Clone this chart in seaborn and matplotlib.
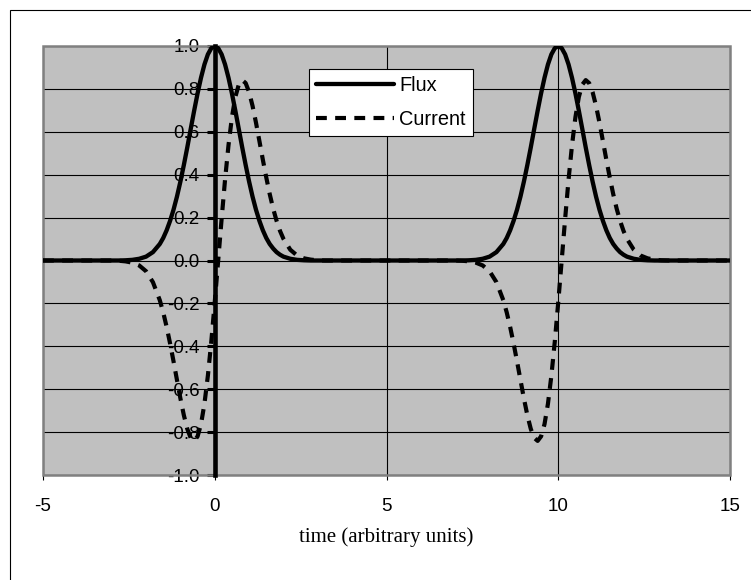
import matplotlib
matplotlib.use("Agg")
import matplotlib.pyplot as plt
from matplotlib.patches import Rectangle
from matplotlib.lines import Line2D
import pandas as pd
import seaborn as sns

# Sample times; the two pulses are centred on t = 0 and t = 10
time = [
    -5.0,
    -3.0, -2.8, -2.6, -2.4, -2.2, -2.0, -1.8, -1.6,
    -1.5, -1.4, -1.3, -1.2, -1.1, -1.0, -0.9, -0.8, -0.7, -0.6, -0.5, -0.4,
    -0.3, -0.2, -0.1, 0.0, 0.1, 0.2, 0.3, 0.4, 0.5, 0.6, 0.7, 0.8,
    0.9, 1.0, 1.1, 1.2, 1.3, 1.4, 1.5, 1.6, 1.7, 1.8, 1.9, 2.0,
    2.2, 2.4, 2.6, 2.8, 3.0, 3.2, 3.4,
    7.0, 7.2, 7.4, 7.6, 7.8, 8.0, 8.2, 8.4,
    8.5, 8.6, 8.7, 8.8, 8.9, 9.0, 9.1, 9.2, 9.3, 9.4, 9.5, 9.6,
    9.7, 9.8, 9.9, 10.0, 10.1, 10.2, 10.3, 10.4, 10.5, 10.6, 10.7, 10.8,
    10.9, 11.0, 11.1, 11.2, 11.3, 11.4, 11.5, 11.6, 11.7, 11.8, 11.9, 12.0,
    12.2, 12.4, 12.6, 12.8, 13.0, 13.2, 13.4,
    15.0,
]

flux = [
    0.000,
    0.000, 0.000, 0.001, 0.003, 0.008, 0.018, 0.039, 0.077,
    0.105, 0.141, 0.185, 0.237, 0.298, 0.368, 0.445, 0.527, 0.613, 0.698, 0.779, 0.852,
    0.914, 0.961, 0.990, 1.000, 0.990, 0.961, 0.914, 0.852, 0.779, 0.698, 0.613, 0.527,
    0.445, 0.368, 0.298, 0.237, 0.185, 0.141, 0.105, 0.077, 0.056, 0.039, 0.027, 0.018,
    0.008, 0.003, 0.001, 0.000, 0.000, 0.000, 0.000,
    0.000, 0.000, 0.001, 0.003, 0.008, 0.018, 0.039, 0.077,
    0.105, 0.141, 0.185, 0.237, 0.298, 0.368, 0.445, 0.527, 0.613, 0.698, 0.779, 0.852,
    0.914, 0.961, 0.990, 1.000, 0.990, 0.961, 0.914, 0.852, 0.779, 0.698, 0.613, 0.527,
    0.445, 0.368, 0.298, 0.237, 0.185, 0.141, 0.105, 0.077, 0.056, 0.039, 0.027, 0.018,
    0.008, 0.003, 0.001, 0.000, 0.000, 0.000, 0.000,
    0.000,
]

current = [
    0.000,
    0.000, -0.001, -0.004, -0.010, -0.023, -0.050, -0.101, -0.185,
    -0.242, -0.310, -0.387, -0.470, -0.557, -0.643, -0.721, -0.785, -0.827, -0.841, -0.820, -0.763,
    -0.668, -0.537, -0.377, -0.194, 0.000, 0.194, 0.377, 0.537, 0.668, 0.763, 0.820, 0.841,
    0.827, 0.785, 0.721, 0.643, 0.557, 0.470, 0.387, 0.310, 0.242, 0.185, 0.138, 0.101,
    0.050, 0.023, 0.010, 0.004, 0.001, 0.000, 0.000,
    0.000, -0.001, -0.004, -0.010, -0.023, -0.050, -0.101, -0.185,
    -0.242, -0.310, -0.387, -0.470, -0.557, -0.643, -0.721, -0.785, -0.827, -0.841, -0.820, -0.763,
    -0.668, -0.537, -0.377, -0.194, 0.000, 0.194, 0.377, 0.537, 0.668, 0.763, 0.820, 0.841,
    0.827, 0.785, 0.721, 0.643, 0.557, 0.470, 0.387, 0.310, 0.242, 0.185, 0.138, 0.101,
    0.050, 0.023, 0.010, 0.004, 0.001, 0.000, 0.000,
    0.000,
]

series_names = ["Flux", "Current"]
x_ticks = [-5, 0, 5, 10, 15]
x_tick_labels = ["-5", "0", "5", "10", "15"]
y_ticks = [-1.0, -0.8, -0.6, -0.4, -0.2, 0.0, 0.2, 0.4, 0.6, 0.8, 1.0]
y_tick_labels = ["-1.0", "-0.8", "-0.6", "-0.4", "-0.2", "0.0",
                 "0.2", "0.4", "0.6", "0.8", "1.0"]
x_title = "time (arbitrary units)"

sns.set_theme(style="white")
plt.rcParams["font.family"] = ["Liberation Sans", "DejaVu Sans"]
plt.rcParams["axes.unicode_minus"] = False

W, H = 751, 580
fig = plt.figure(figsize=(W / 100, H / 100), dpi=100)
fig.patch.set_facecolor("white")

left, right, top, bottom = 43, 730, 46, 475
ax = fig.add_axes([left / W, 1 - bottom / H, (right - left) / W, (bottom - top) / H])
ax.set_facecolor("#c0c0c0")

df = pd.DataFrame({"time": time, series_names[0]: flux, series_names[1]: current})

flux_style = dict(color="black", linewidth=3.1, solid_capstyle="round",
                  solid_joinstyle="round")
current_style = dict(color="black", linewidth=3.0, linestyle=(0, (2.6, 2.0)))

sns.lineplot(data=df, x="time", y=series_names[0], ax=ax, estimator=None,
             sort=False, zorder=3, legend=False, **flux_style)
sns.lineplot(data=df, x="time", y=series_names[1], ax=ax, estimator=None,
             sort=False, zorder=3, legend=False, **current_style)

ax.set_xlim(-5, 15)
ax.set_ylim(-1, 1)
ax.set_xticks(x_ticks)
ax.set_xticklabels(x_tick_labels)
ax.set_yticks(y_ticks)
ax.set_yticklabels(y_tick_labels)
ax.set_ylabel("")

# gridlines
ax.grid(True, color="black", linewidth=0.8)

# value axis crosses at t = 0, drawn heavy
for side in ["top", "right", "bottom"]:
    ax.spines[side].set_visible(False)
ax.spines["left"].set_position(("data", 0))
ax.spines["left"].set_color("black")
ax.spines["left"].set_linewidth(3.3)
ax.spines["left"].set_zorder(2.7)

# grey plot-area border
ax.add_patch(Rectangle((0, 0), 1, 1, transform=ax.transAxes, fill=False,
                       edgecolor="#808080", linewidth=1.8, zorder=2.6, clip_on=False))

ax.tick_params(axis="y", direction="out", length=6, width=2.2, color="black",
               pad=5, labelsize=13.5, labelcolor="black", left=True)
ax.tick_params(axis="x", direction="out", length=3.8, width=0.8, color="black",
               pad=13, labelsize=13.5, labelcolor="black", bottom=True)

ax.set_xlabel(x_title, fontfamily=["Liberation Serif", "DejaVu Serif"],
              fontsize=15, color="black")
ax.xaxis.set_label_coords(0.5, -0.121)

handles = [Line2D([], [], **flux_style), Line2D([], [], **current_style)]
leg = ax.legend(handles, series_names, loc="upper left",
                bbox_to_anchor=(309 / W, 1 - 69 / H), bbox_transform=fig.transFigure,
                frameon=True, fancybox=False, framealpha=1, facecolor="white",
                edgecolor="black", fontsize=14.4, handlelength=3.9,
                handletextpad=0.25, borderpad=0.35, labelspacing=0.75,
                borderaxespad=0)
leg.get_frame().set_linewidth(0.8)
for t in leg.get_texts():
    t.set_color("black")

# outer chart border
fig.add_artist(Rectangle((9.5 / W, -0.5), 2, (1 - 9.5 / H) + 0.5,
                         transform=fig.transFigure, fill=False,
                         edgecolor="black", linewidth=0.8))

fig.savefig("out.png", dpi=100)
